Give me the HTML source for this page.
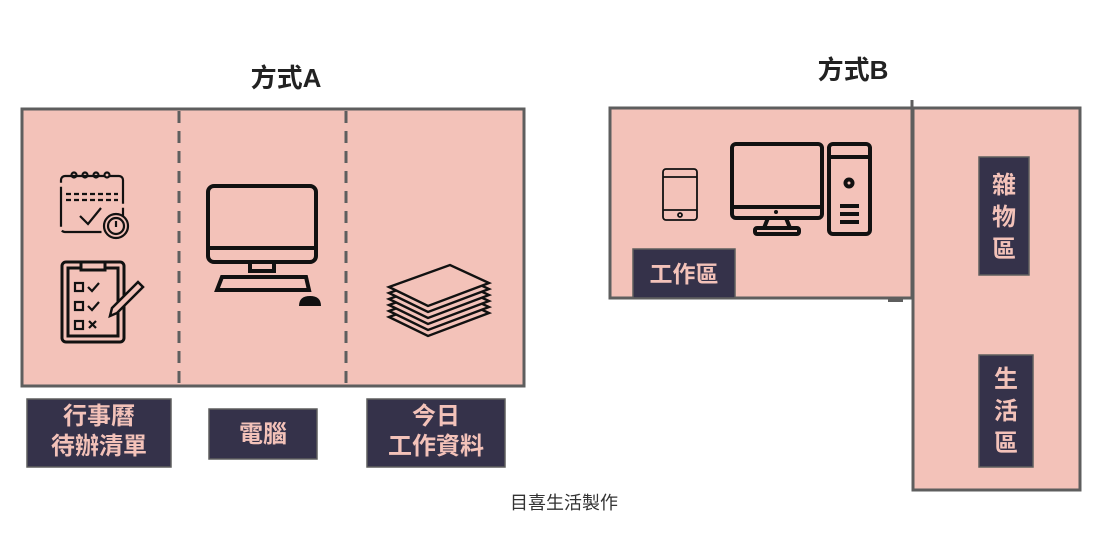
<!DOCTYPE html>
<html><head><meta charset="utf-8"><style>
body{margin:0;background:#fff}
text{font-family:"Liberation Sans","Noto Sans CJK TC",sans-serif}
</style></head><body>
<svg width="1110" height="542" viewBox="0 0 1110 542" xmlns="http://www.w3.org/2000/svg">
<text x="286" y="87" font-size="26" font-weight="bold" fill="#222" text-anchor="middle">方式A</text>
<text x="853" y="79" font-size="26" font-weight="bold" fill="#222" text-anchor="middle">方式B</text>
<!-- Box A -->
<rect x="22" y="109" width="502" height="277" fill="#f3c2b9" stroke="#5e5e5e" stroke-width="3"/>
<line x1="179" y1="111" x2="179" y2="384" stroke="#5e5e5e" stroke-width="3" stroke-dasharray="12,8"/>
<line x1="346" y1="111" x2="346" y2="384" stroke="#5e5e5e" stroke-width="3" stroke-dasharray="12,8"/>
<!-- calendar icon -->
<g fill="none" stroke="#111" stroke-width="2.2">
<rect x="61" y="176" width="62" height="56" rx="4" stroke-dasharray="40,4"/>
<line x1="66" y1="194" x2="118" y2="194" stroke-dasharray="5,3"/>
<line x1="66" y1="200" x2="118" y2="200" stroke-dasharray="5,3"/>
<polyline points="80,216 88,224 101,208"/>
<circle cx="116" cy="226" r="12" fill="#f3c2b9"/><circle cx="116" cy="226" r="8"/>
<line x1="116" y1="221" x2="116" y2="227"/>
<circle cx="74" cy="175" r="2.5"/><circle cx="85" cy="175" r="2.5"/><circle cx="96" cy="175" r="2.5"/><circle cx="107" cy="175" r="2.5"/>
</g>
<!-- clipboard -->
<g fill="none" stroke="#111" stroke-width="3">
<rect x="62" y="262" width="62" height="80" rx="4"/>
<rect x="68" y="268" width="50" height="68"/>
<rect x="81" y="262" width="24" height="8" fill="#f3c2b9"/>
<rect x="75" y="283" width="8" height="8" stroke-width="2.2"/>
<rect x="75" y="302" width="8" height="8" stroke-width="2.2"/>
<rect x="75" y="321" width="8" height="8" stroke-width="2.2"/>
<polyline points="88,287 92,291 99,283" stroke-width="2.2"/>
<polyline points="88,306 92,310 99,302" stroke-width="2.2"/>
<path d="M89 321 l7 7 M96 321 l-7 7" stroke-width="2.2"/>
<path d="M112 308 L138 282 L143 287 L117 313 L110 316 Z" fill="#f3c2b9" stroke-width="2.5"/>
</g>
<!-- monitor A -->
<g fill="none" stroke="#111" stroke-width="4">
<rect x="208" y="186" width="108" height="76" rx="6"/>
<line x1="208" y1="248" x2="316" y2="248"/>
<rect x="250" y="262" width="24" height="9"/>
<path d="M222 277 H306 L309 290 H217 Z"/>
</g>
<path d="M299 306 Q299 296 310 296 Q321 296 321 306 Z" fill="#111"/>
<!-- papers -->
<g fill="#f3c2b9" stroke="#111" stroke-width="2.4">
<path d="M389 317 L450 295 L489 313 L428 336 Z"/>
<path d="M389 311 L450 289 L489 307 L428 330 Z"/>
<path d="M389 305 L450 283 L489 301 L428 324 Z"/>
<path d="M389 299 L450 277 L489 295 L428 318 Z"/>
<path d="M389 293 L450 271 L489 289 L428 312 Z"/>
<path d="M389 287 L450 265 L489 283 L428 306 Z"/>
</g>
<!-- labels A -->
<g fill="#35324a" stroke="#5e5e5e" stroke-width="1.5">
<rect x="27" y="399" width="144" height="68"/>
<rect x="209" y="409" width="108" height="50"/>
<rect x="367" y="399" width="138" height="68"/>
</g>
<g fill="#f3c2b9" font-size="24" font-weight="bold" text-anchor="middle">
<text x="99" y="424">行事曆</text>
<text x="99" y="454">待辦清單</text>
<text x="263" y="442">電腦</text>
<text x="436" y="424">今日</text>
<text x="436" y="454">工作資料</text>
</g>
<!-- Box B -->
<rect x="610" y="108" width="302" height="190" fill="#f3c2b9" stroke="#5e5e5e" stroke-width="3"/>
<rect x="913" y="108" width="167" height="382" fill="#f3c2b9" stroke="#5e5e5e" stroke-width="3"/>
<line x1="912" y1="100" x2="912" y2="300" stroke="#5e5e5e" stroke-width="3" stroke-dasharray="12,5"/>
<rect x="888" y="298" width="15" height="4" fill="#5e5e5e"/>
<!-- phone -->
<g fill="none" stroke="#111" stroke-width="1.8">
<rect x="663" y="169" width="34" height="51" rx="3"/>
<line x1="663" y1="177" x2="697" y2="177"/><line x1="663" y1="210" x2="697" y2="210"/>
<circle cx="680" cy="215" r="2"/>
</g>
<!-- monitor B -->
<g fill="none" stroke="#111" stroke-width="4">
<rect x="732" y="144" width="90" height="74" rx="4"/>
<line x1="732" y1="207" x2="822" y2="207"/>
<path d="M768 218 L764 228 H790 L786 218"/>
<rect x="755" y="228" width="44" height="6" rx="2"/>
<rect x="829" y="144" width="41" height="90" rx="4"/>
<line x1="829" y1="157" x2="870" y2="157"/>
<circle cx="849" cy="183" r="3.5"/>
<line x1="840" y1="206" x2="859" y2="206"/><line x1="840" y1="214" x2="859" y2="214"/><line x1="840" y1="222" x2="859" y2="222"/>
</g>
<circle cx="776" cy="212" r="2" fill="#111"/>
<g fill="#35324a" stroke="#5e5e5e" stroke-width="1.5">
<rect x="633" y="249" width="102" height="49"/>
<rect x="979" y="157" width="50" height="118"/>
<rect x="979" y="355" width="54" height="112"/>
</g>
<g fill="#f3c2b9" font-size="24" font-weight="bold" text-anchor="middle">
<text x="684" y="282" font-size="23">工作區</text>
<text x="1004" y="193">雜</text><text x="1004" y="225">物</text><text x="1004" y="257">區</text>
<text x="1006" y="387">生</text><text x="1006" y="419">活</text><text x="1006" y="451">區</text>
</g>
<text x="564" y="509" font-size="18" fill="#333" text-anchor="middle">目喜生活製作</text>
</svg>
</body></html>
